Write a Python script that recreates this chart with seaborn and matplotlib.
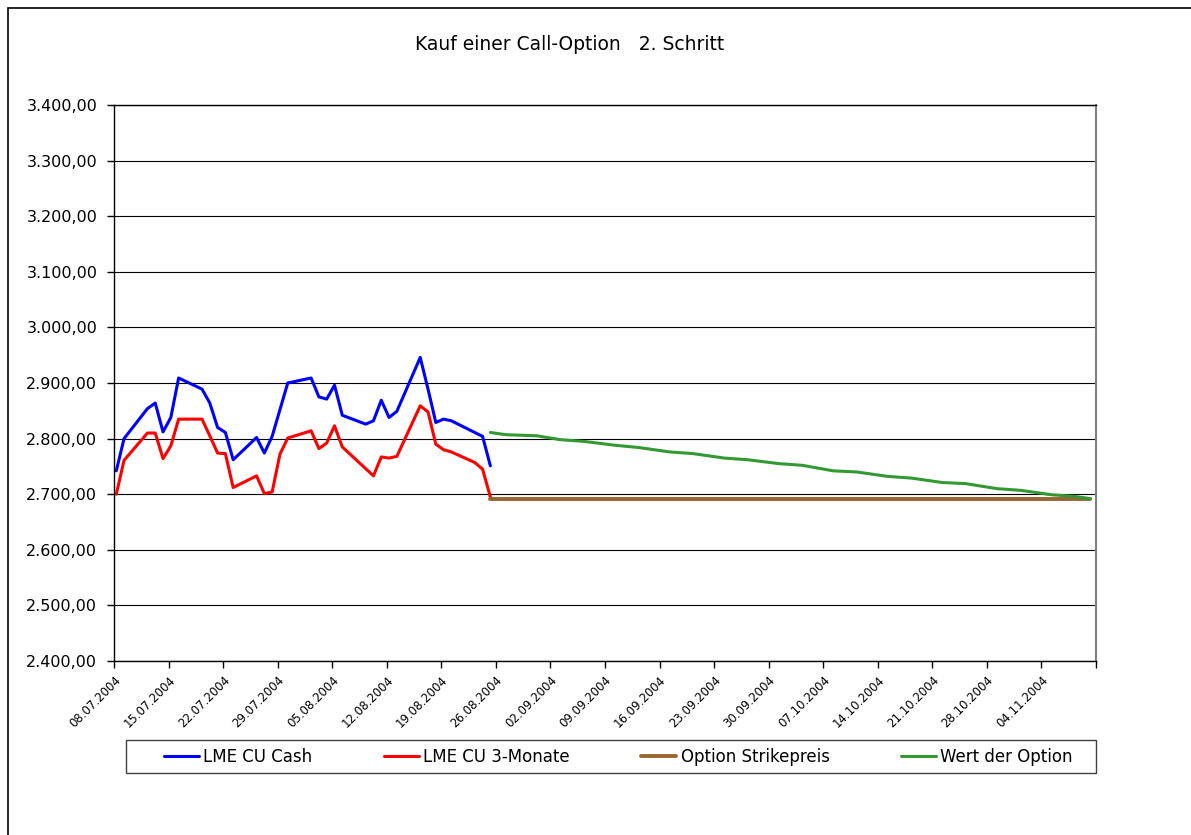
import pandas as pd
import seaborn as sns
import matplotlib.pyplot as plt
from matplotlib.ticker import FuncFormatter, MultipleLocator
from matplotlib.patches import Rectangle

# LME Kupfer Kassa / 3-Monate (Handelstage)
kurs_tage = ['08.07.2004', '09.07.2004', '12.07.2004', '13.07.2004', '14.07.2004', '15.07.2004',
             '16.07.2004', '19.07.2004', '20.07.2004', '21.07.2004', '22.07.2004', '23.07.2004',
             '26.07.2004', '27.07.2004', '28.07.2004', '29.07.2004', '30.07.2004', '02.08.2004',
             '03.08.2004', '04.08.2004', '05.08.2004', '06.08.2004', '09.08.2004', '10.08.2004',
             '11.08.2004', '12.08.2004', '13.08.2004', '16.08.2004', '17.08.2004', '18.08.2004',
             '19.08.2004', '20.08.2004', '23.08.2004', '24.08.2004', '25.08.2004']
cu_cash = [2742, 2800, 2854, 2864, 2812, 2838, 2909, 2889, 2864, 2820, 2811, 2762,
           2802, 2774, 2804, 2852, 2900, 2909, 2875, 2871, 2896, 2842, 2826, 2832,
           2869, 2838, 2849, 2946, 2889, 2829, 2835, 2832, 2811, 2804, 2751]
cu_3m = [2700, 2761, 2810, 2810, 2764, 2787, 2835, 2835, 2805, 2774, 2773, 2712,
         2733, 2701, 2704, 2772, 2801, 2814, 2782, 2792, 2823, 2785, 2746, 2733,
         2767, 2765, 2768, 2859, 2848, 2790, 2780, 2776, 2757, 2745, 2695]

# Strikepreis der Option
strike_tage = ['25.08.2004', '10.11.2004']
strike = [2692, 2692]

# Wert der Option
wert_tage = ['25.08.2004', '27.08.2004', '31.08.2004', '03.09.2004', '06.09.2004', '10.09.2004',
             '13.09.2004', '17.09.2004', '20.09.2004', '24.09.2004', '27.09.2004', '01.10.2004',
             '04.10.2004', '08.10.2004', '11.10.2004', '15.10.2004', '18.10.2004', '22.10.2004',
             '25.10.2004', '29.10.2004', '01.11.2004', '05.11.2004', '08.11.2004', '10.11.2004']
wert = [2811, 2807, 2805, 2798, 2795, 2788, 2784, 2776, 2773, 2765, 2762, 2755,
        2752, 2742, 2740, 2732, 2729, 2721, 2719, 2710, 2707, 2699, 2696, 2692]

# Excel setzt die Punkte leicht hinter den Teilstrich
VERSATZ = pd.Timedelta(hours=7)

def datum(liste):
    return pd.to_datetime(liste, format='%d.%m.%Y') + VERSATZ

sns.set_style("white")
plt.rcParams['font.family'] = ['DejaVu Sans']
plt.rcParams['text.color'] = 'black'
plt.rcParams['xtick.color'] = 'black'
plt.rcParams['ytick.color'] = 'black'

fig = plt.figure(figsize=(11.91, 8.35), dpi=100)
ax = fig.add_axes([114/1191, 1-661/835, 982/1191, 556/835])

sns.lineplot(x=datum(kurs_tage), y=cu_cash, ax=ax, color='#0000FF', lw=2.2, label='LME CU Cash')
sns.lineplot(x=datum(kurs_tage), y=cu_3m, ax=ax, color='#FF0000', lw=2.2, label='LME CU 3-Monate')
sns.lineplot(x=datum(strike_tage), y=strike, ax=ax, color='#996633', lw=2.8, label='Option Strikepreis')
sns.lineplot(x=datum(wert_tage), y=wert, ax=ax, color='#339933', lw=2.2, label='Wert der Option')

ax.set_ylim(2400, 3400)
ax.yaxis.set_major_locator(MultipleLocator(100))
ax.yaxis.set_major_formatter(FuncFormatter(
    lambda v, p: f"{v:,.2f}".replace(',', 'X').replace('.', ',').replace('X', '.')))
ax.grid(axis='y', color='black', lw=0.8)
ax.set_axisbelow(True)

ax.set_xlim(pd.Timestamp('2004-07-08'), pd.Timestamp('2004-11-11'))
ticks = pd.date_range('2004-07-08', '2004-11-11', freq='7D')
ax.set_xticks(ticks)
ax.set_xticklabels([t.strftime('%d.%m.%Y') if i < len(ticks) - 1 else '' for i, t in enumerate(ticks)],
                   rotation=45, ha='right', rotation_mode='anchor', fontsize=8.5)
ax.tick_params(axis='x', bottom=True, length=5, width=1, pad=4)
ax.tick_params(axis='y', left=True, length=5, width=1, labelsize=11.5, pad=7)
ax.set_xlabel('')
ax.set_ylabel('')

for s in ['left', 'bottom', 'top']:
    ax.spines[s].set_color('black')
    ax.spines[s].set_linewidth(1)
ax.spines['right'].set_color('#808080')
ax.spines['right'].set_linewidth(1.5)

handles, labels = ax.get_legend_handles_labels()
ax.get_legend().remove()
leg = fig.legend(handles, labels, loc='center left', ncol=4,
                 bbox_to_anchor=(164/1191, 1-756.5/835),
                 fontsize=12, frameon=False, handlelength=2.1, handletextpad=0.25,
                 columnspacing=4.3, borderaxespad=0, borderpad=0)

# Legendenrahmen
fig.patches.append(Rectangle((126/1191, 1-773/835), 970/1191, 33/835, transform=fig.transFigure,
                             fill=False, edgecolor='#404040', lw=1))

fig.text(570/1191, 1-45/835, 'Kauf einer Call-Option   2. Schritt', ha='center', va='center', fontsize=13.5)

# Rahmen des Diagrammbereichs
fig.patches.append(Rectangle((8/1191, -0.1), 1.2, 1.1 - 8/835, transform=fig.transFigure,
                             fill=False, edgecolor='black', lw=1.2))

plt.savefig("out.png", dpi=100)
